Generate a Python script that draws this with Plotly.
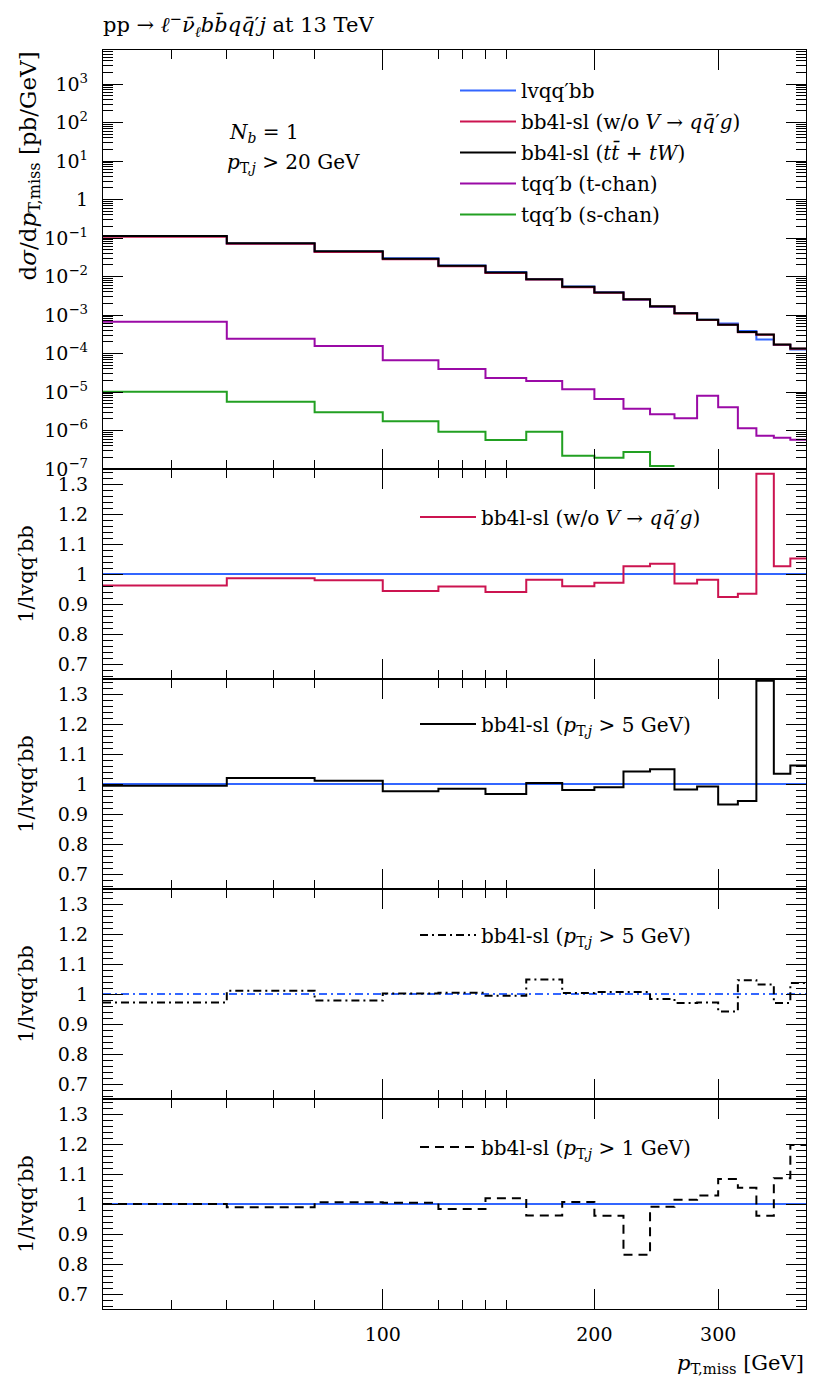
import numpy as np
import plotly.graph_objects as go
from plotly.subplots import make_subplots

# ---------------- data ----------------
bin_edges = [40, 60, 80, 100, 120, 140, 160, 180, 200, 220, 240, 260, 280, 300,
             320, 340, 360, 380, 400]

lvqqbb = [0.1127, 0.0721, 0.0445, 0.0297, 0.0194, 0.01313, 0.00847, 0.00551, 0.00389,
          0.002476, 0.001602, 0.00113, 0.000756, 0.000601, 0.000382, 0.000231, 0.000166, 0.000127]
bb4l_wo_V = [0.1084, 0.0711, 0.0436, 0.0280, 0.01859, 0.01234, 0.00831, 0.00528, 0.00378,
             0.00254, 0.001656, 0.001094, 0.000742, 0.000555, 0.000357, 0.000308, 0.00017, 0.0001336]
bb4l_tt_tW = [0.112, 0.0735, 0.045, 0.029, 0.0191, 0.0127, 0.0085, 0.0054, 0.00385,
              0.00258, 0.00168, 0.00111, 0.00075, 0.00056, 0.00036, 0.00031, 0.000172, 0.000135]
tqqb_tchan = [6.7e-4, 2.42e-4, 1.57e-4, 6.65e-5, 3.96e-5, 2.31e-5, 1.93e-5, 1.17e-5, 6.6e-6,
              3.68e-6, 2.63e-6, 2.07e-6, 8.0e-6, 4.0e-6, 1.14e-6, 7.3e-7, 6.5e-7, 5.77e-7]
tqqb_schan = [1.02e-5, 5.6e-6, 2.96e-6, 1.74e-6, 9.3e-7, 5.7e-7, 9.3e-7, 2.2e-7, 1.97e-7,
              2.77e-7, 1.2e-7, None, None, None, None, None, None, None]

ratio_wo_V = [0.962, 0.986, 0.979, 0.943, 0.958, 0.940, 0.981, 0.959, 0.971,
              1.026, 1.034, 0.968, 0.981, 0.923, 0.934, 1.334, 1.026, 1.052]
ratio_pt5 = [0.994, 1.020, 1.011, 0.976, 0.984, 0.967, 1.003, 0.980, 0.989,
             1.042, 1.049, 0.982, 0.992, 0.932, 0.943, 1.344, 1.034, 1.062]
ratio_pt5_dd = [0.972, 1.011, 0.978, 1.002, 1.004, 0.994, 1.048, 1.003, 1.007,
                1.007, 0.983, 0.970, 0.972, 0.942, 1.046, 1.032, 0.970, 1.037]
ratio_pt1 = [1.000, 0.989, 1.006, 1.004, 0.983, 1.019, 0.962, 1.007, 0.961,
             0.831, 0.991, 1.014, 1.028, 1.083, 1.054, 0.961, 1.086, 1.197]

ratio_ref = list(np.array(lvqqbb) / np.array(lvqqbb))

x_major = [100, 200, 300]
x_major_text = ["100", "200", "300"]
x_minor = [50, 60, 70, 80, 120, 130, 140, 150]

y_top_ticks = [1e-7, 1e-6, 1e-5, 1e-4, 1e-3, 1e-2, 1e-1, 1, 10, 100, 1000]
y_top_text = ["10<sup>−7</sup>", "10<sup>−6</sup>", "10<sup>−5</sup>", "10<sup>−4</sup>",
              "10<sup>−3</sup>", "10<sup>−2</sup>", "10<sup>−1</sup>", "1",
              "10<sup>1</sup>", "10<sup>2</sup>", "10<sup>3</sup>"]
y_ratio_ticks = [0.7, 0.8, 0.9, 1.0, 1.1, 1.2, 1.3]
y_ratio_text = ["0.7", "0.8", "0.9", "1", "1.1", "1.2", "1.3"]

# ---------------- style ----------------
BLUE = "#3366ff"
RED = "#cc1450"
BLACK = "#000000"
PURPLE = "#9a0aa6"
GREEN = "#22a022"
FONT = "DejaVu Serif"
LW = 2


def step(vals):
    xs, ys = [], []
    for i, v in enumerate(vals):
        if v is None:
            break
        xs.append(bin_edges[i])
        ys.append(v)
    xs.append(bin_edges[len(ys)])
    ys.append(ys[-1])
    return xs, ys


H_TOP, H_R = 419, 210
fig = make_subplots(rows=5, cols=1, shared_xaxes=True, vertical_spacing=0,
                    row_heights=[H_TOP, H_R, H_R, H_R, H_R])

top_series = [
    ("lvqq′bb", lvqqbb, BLUE),
    ("bb4l-sl (w/o <i>V</i> → <i>q</i><i>q̄</i>′<i>g</i>)", bb4l_wo_V, RED),
    ("bb4l-sl (<i>t</i><i>t̄</i> + <i>tW</i>)", bb4l_tt_tW, BLACK),
    ("tqq′b (t-chan)", tqqb_tchan, PURPLE),
    ("tqq′b (s-chan)", tqqb_schan, GREEN),
]
for i, (name, vals, col) in enumerate(top_series):
    xs, ys = step(vals)
    fig.add_trace(go.Scatter(x=xs, y=ys, mode="lines", line_shape="hv", name=name,
                             line=dict(color=col, width=LW), legend="legend",
                             legendgroup=f"g{i}"), row=1, col=1)

ratio_panels = [
    (2, "bb4l-sl (w/o <i>V</i> → <i>q</i><i>q̄</i>′<i>g</i>)", ratio_wo_V, RED, "solid", "solid"),
    (3, "bb4l-sl (<i>p</i><sub>T,<i>j</i></sub> > 5 GeV)", ratio_pt5, BLACK, "solid", "solid"),
    (4, "bb4l-sl (<i>p</i><sub>T,<i>j</i></sub> > 5 GeV)", ratio_pt5_dd, BLACK, "8px,4px,2px,4px", "8px,4px,2px,4px"),
    (5, "bb4l-sl (<i>p</i><sub>T,<i>j</i></sub> > 1 GeV)", ratio_pt1, BLACK, "9px,6px", "solid"),
]
for row, name, vals, col, dash, refdash in ratio_panels:
    xs, ys = step(ratio_ref)
    fig.add_trace(go.Scatter(x=xs, y=ys, mode="lines", line_shape="hv", showlegend=False,
                             line=dict(color=BLUE, width=LW, dash=refdash),
                             hoverinfo="skip"), row=row, col=1)
    xs, ys = step(vals)
    fig.add_trace(go.Scatter(x=xs, y=ys, mode="lines", line_shape="hv", name=name,
                             line=dict(color=col, width=LW, dash=dash),
                             legend=f"legend{row}"), row=row, col=1)

# ---------------- axes ----------------
axcommon = dict(showline=True, linecolor="black", linewidth=1.3, mirror="ticks",
                ticks="inside", tickcolor="black", showgrid=False, zeroline=False,
                automargin=False,
                tickfont=dict(family=FONT, size=19, color="black"))
for r in range(1, 6):
    fig.update_xaxes(type="log", range=[np.log10(40), np.log10(400)],
                     tickmode="array", tickvals=x_major, ticktext=x_major_text,
                     ticklen=20, tickwidth=1,
                     minor=dict(tickmode="array", tickvals=x_minor, ticks="inside",
                                ticklen=9, tickcolor="black", tickwidth=1),
                     ticklabelstandoff=8, showticklabels=(r == 5),
                     row=r, col=1, **axcommon)

fig.update_yaxes(type="log", range=[-7, 3.883], tickmode="array",
                 tickvals=y_top_ticks, ticktext=y_top_text, ticklen=20, tickwidth=1,
                 minor=dict(tickmode="array",
                            tickvals=[k * 10.0 ** e for e in range(-7, 4) for k in range(2, 10)
                                      if k * 10.0 ** e < 7600],
                            ticks="inside", ticklen=10, tickcolor="black", tickwidth=1),
                 ticklabelstandoff=10, row=1, col=1, **axcommon)
for r in range(2, 6):
    fig.update_yaxes(range=[0.65, 1.35], tickmode="array", tickvals=y_ratio_ticks,
                     ticktext=y_ratio_text, ticklen=20, tickwidth=1,
                     minor=dict(dtick=0.02, tick0=0.0, ticks="inside", ticklen=10,
                                tickcolor="black", tickwidth=1),
                     ticklabelstandoff=10,
                     title=dict(text="1/lvqq′bb", font=dict(family=FONT, size=21, color="black"),
                                standoff=18),
                     row=r, col=1, **axcommon)

# ---------------- layout ----------------
# the page body adds an 8 px margin, so the figure is offset by 8 px in the window
OFF = 8
W, H = 814, 1372
ML, MR, MT, MB = 95, 16, 42, 71
PW, PH = W - ML - MR, H - MT - MB


def px(x):
    return (x - OFF - ML) / PW


def py(y):
    return 1 - (y - OFF - MT) / PH


legend_style = dict(font=dict(family=FONT, size=20, color="black"), bgcolor="rgba(0,0,0,0)",
                    borderwidth=0, xanchor="left", yanchor="middle", itemwidth=56)
fig.update_layout(
    width=W, height=H, margin=dict(l=ML, r=MR, t=MT, b=MB),
    paper_bgcolor="white", plot_bgcolor="white",
    font=dict(family=FONT, color="black"),
    title=dict(text="pp → <i>ℓ</i><sup>−</sup><i>ν̄</i><sub><i>ℓ</i></sub><i>bb̄qq̄</i>′<i>j</i> at 13 TeV",
               x=(103 - OFF) / W, xanchor="left", y=1 - (25 - OFF) / H, yanchor="middle",
               font=dict(family=FONT, size=21, color="black")),
    legend=dict(x=px(455), y=py(71), xanchor="left", yanchor="top", tracegroupgap=2,
                itemwidth=56,
                font=dict(family=FONT, size=20, color="black"), bgcolor="rgba(0,0,0,0)"),
    legend2=dict(x=px(415), y=py(517), **legend_style),
    legend3=dict(x=px(415), y=py(724), **legend_style),
    legend4=dict(x=px(415), y=py(935), **legend_style),
    legend5=dict(x=px(415), y=py(1147), **legend_style),
    showlegend=True,
)

fig.add_annotation(text="d<i>σ</i>/d<i>p</i><sub>T,miss</sub> [pb/GeV]", textangle=-90,
                   xref="paper", yref="paper", x=px(12), y=1.0, xanchor="left", yanchor="top",
                   showarrow=False, font=dict(family=FONT, size=23, color="black"))
fig.add_annotation(text="<i>p</i><sub>T,miss</sub> [GeV]", xref="paper", yref="paper",
                   x=1.0, y=py(1364), xanchor="right", yanchor="middle", showarrow=False,
                   font=dict(family=FONT, size=21, color="black"))
fig.add_annotation(text="<i>N</i><sub><i>b</i></sub> = 1", xref="paper", yref="paper",
                   x=px(227), y=py(133), xanchor="left", yanchor="middle", showarrow=False,
                   font=dict(family=FONT, size=20, color="black"))
fig.add_annotation(text="<i>p</i><sub>T,<i>j</i></sub> > 20 GeV", xref="paper", yref="paper",
                   x=px(225), y=py(163), xanchor="left", yanchor="middle", showarrow=False,
                   font=dict(family=FONT, size=20, color="black"))

fig.write_html("out.html")
